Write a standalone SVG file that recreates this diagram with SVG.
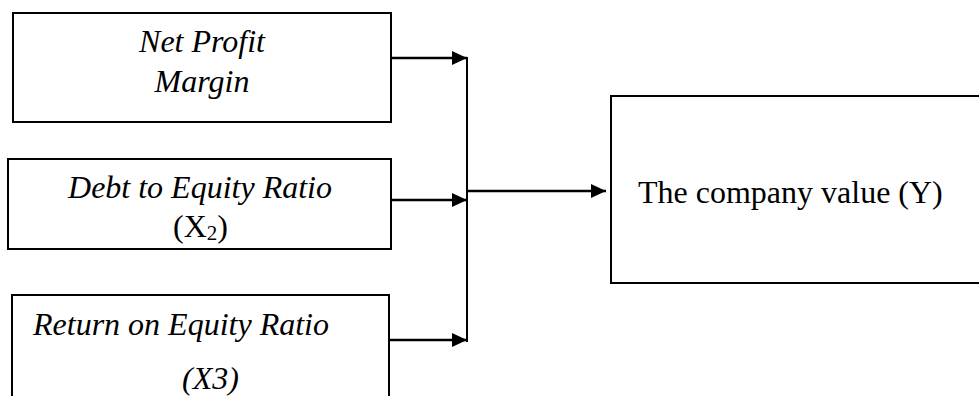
<svg xmlns="http://www.w3.org/2000/svg" width="979" height="396" viewBox="0 0 979 396">
<style>
  .box { fill: #fff; stroke: #000; stroke-width: 2; }
  .it { font-family: "Liberation Serif", "Times New Roman", serif; font-style: italic; font-size: 32px; fill: #000; }
  .rm { font-family: "Liberation Serif", "Times New Roman", serif; font-size: 32px; fill: #000; }
  .conn { stroke: #000; stroke-width: 2.5; fill: none; }
  .vline { stroke: #000; stroke-width: 2; fill: none; }
</style>
<defs>
  <marker id="arrow" markerUnits="userSpaceOnUse" markerWidth="16" markerHeight="15" refX="15" refY="7" orient="auto">
    <path d="M0,0 L15,7 L0,14 Z" fill="#000"/>
  </marker>
</defs>
<rect width="979" height="396" fill="#fff"/>
<g id="node-npm">
  <rect class="box" x="13" y="13" width="378" height="109"/>
  <text class="it" x="202" y="52" text-anchor="middle">Net Profit</text>
  <text class="it" x="202" y="92" text-anchor="middle">Margin</text>
</g>
<g id="node-der">
  <rect class="box" x="8" y="159" width="383" height="90"/>
  <text class="it" x="200" y="198" text-anchor="middle">Debt to Equity Ratio</text>
  <text class="rm" x="173" y="237">(X<tspan font-size="21" dy="3">2</tspan><tspan dy="-3">)</tspan></text>
</g>
<g id="node-roe">
  <rect class="box" x="12" y="295" width="377" height="120"/>
  <text class="it" x="33" y="335">Return on Equity Ratio</text>
  <text class="it" x="182" y="389">(X3)</text>
</g>
<g id="node-y">
  <rect class="box" x="611" y="96" width="390" height="187"/>
  <text class="rm" x="638" y="203" font-size="31">The company value (Y)</text>
</g>
<g id="connectors">
  <line class="conn" x1="391" y1="58" x2="467" y2="58" marker-end="url(#arrow)"/>
  <line class="conn" x1="391" y1="200" x2="467" y2="200" marker-end="url(#arrow)"/>
  <line class="conn" x1="389" y1="340" x2="467" y2="340" marker-end="url(#arrow)"/>
  <line class="vline" x1="467" y1="57" x2="467" y2="342"/>
  <line class="conn" x1="466" y1="191" x2="606" y2="191" marker-end="url(#arrow)"/>
</g>
</svg>
